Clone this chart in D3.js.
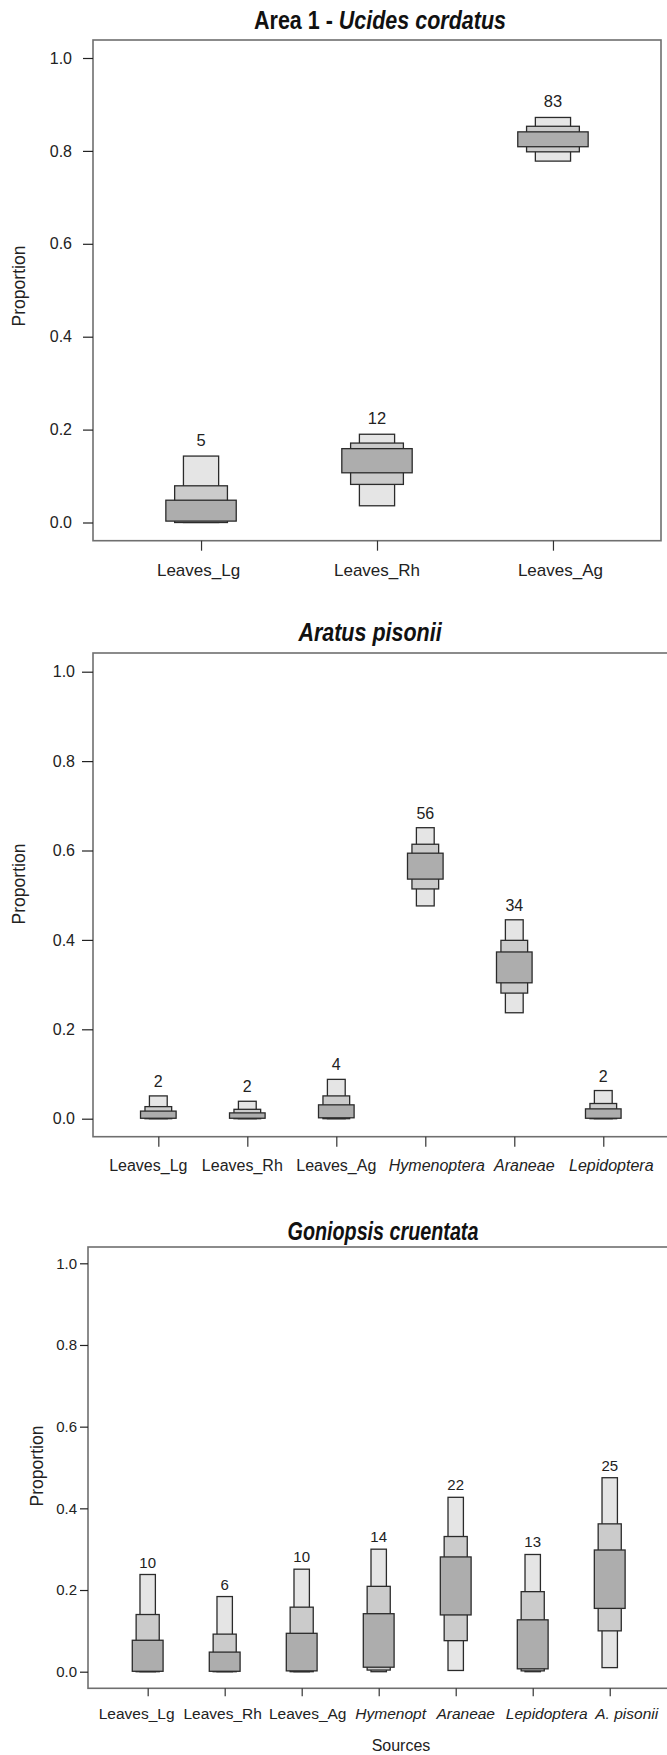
<!DOCTYPE html>
<html>
<head>
<meta charset="utf-8">
<script src="https://cdn.jsdelivr.net/npm/d3@7/dist/d3.min.js"></script>
<style>
  body { margin: 0; background: #fff; }
  svg { display: block; }
</style>
</head>
<body>
<div id="chart"></div>
<script>
// --- data (posterior proportions, 50/75/95% boxes) ---
const yTicks = [0, 0.2, 0.4, 0.6, 0.8, 1.0];

// Area 1 - Ucides cordatus
const cats1 = ['Leaves_Lg', 'Leaves_Rh', 'Leaves_Ag'];
const n1 = [5, 12, 83];
const ci95_1 = [[0.000, 0.143], [0.036, 0.190], [0.778, 0.872]];
const ci75_1 = [[0.000, 0.079], [0.082, 0.171], [0.798, 0.853]];
const ci50_1 = [[0.003, 0.048], [0.107, 0.159], [0.809, 0.841]];

// Aratus pisonii
const cats2 = ['Leaves_Lg', 'Leaves_Rh', 'Leaves_Ag', 'Hymenoptera', 'Araneae', 'Lepidoptera'];
const n2 = [2, 2, 4, 56, 34, 2];
const ci95_2 = [[0.000, 0.051], [0.000, 0.039], [0.000, 0.088], [0.476, 0.651], [0.237, 0.445], [0.000, 0.063]];
const ci75_2 = [[0.000, 0.027], [0.000, 0.021], [0.000, 0.051], [0.514, 0.614], [0.281, 0.399], [0.000, 0.034]];
const ci50_2 = [[0.001, 0.017], [0.001, 0.013], [0.002, 0.031], [0.536, 0.594], [0.304, 0.373], [0.001, 0.022]];

// Goniopsis cruentata
const cats3 = ['Leaves_Lg', 'Leaves_Rh', 'Leaves_Ag', 'Hymenopt', 'Araneae', 'Lepidoptera', 'A. pisonii'];
const n3 = [10, 6, 10, 14, 22, 13, 25];
const ci95_3 = [[0.000, 0.238], [0.000, 0.184], [0.000, 0.251], [0.000, 0.300], [0.003, 0.427], [0.000, 0.287], [0.010, 0.475]];
const ci75_3 = [[0.000, 0.140], [0.000, 0.092], [0.000, 0.158], [0.004, 0.209], [0.076, 0.331], [0.002, 0.196], [0.100, 0.362]];
const ci50_3 = [[0.001, 0.077], [0.001, 0.048], [0.002, 0.094], [0.011, 0.142], [0.139, 0.281], [0.007, 0.127], [0.155, 0.298]];

const italicCats = ['Hymenoptera', 'Araneae', 'Lepidoptera', 'Hymenopt', 'A. pisonii'];

const W = 667, H = 1755;
const sans = '"Liberation Sans", Arial, sans-serif';

const fills = { c95: '#e5e5e5', c75: '#cbcbcb', c50: '#adadad' };

const svg = d3.select('#chart').append('svg')
  .attr('width', W)
  .attr('height', H)
  .attr('viewBox', `0 0 ${W} ${H}`);

// layout of the three panels (labels in the original were nudged by hand)
const panels = [
  {
    title: [['Area 1 - ', 'normal'], ['Ucides cordatus', 'italic']],
    titleX: 380, titleY: 29, titleScale: 0.86,
    cats: cats1, n: n1, c95: ci95_1, c75: ci75_1, c50: ci50_1,
    left: 93, right: 661, top: 40, bottom: 540.7, y0: 522.5, y1: 58, pad: 0.614,
    tickLen: 10, tickPad: 11, xTickLen: 10, tickFont: 16,
    catFont: 17, catY: 576, catShift: [-2.5, 0, 7.5], nFont: 16.5, nGap: 10,
    propX: 19, propY: 286
  },
  {
    title: [['Aratus pisonii', 'italic']],
    titleX: 370, titleY: 641, titleScale: 0.86,
    cats: cats2, n: n2, c95: ci95_2, c75: ci75_2, c50: ci50_2,
    left: 93, right: 668.6, top: 653, bottom: 1136.7, y0: 1118.7, y1: 671.7, pad: 0.734,
    tickLen: 11, tickPad: 7, xTickLen: 10, tickFont: 16,
    catFont: 16, catY: 1171, catShift: [-10, -5, 0, 11.5, 10, 8], nFont: 16, nGap: 9,
    propX: 19, propY: 884
  },
  {
    title: [['Goniopsis cruentata', 'italic']],
    titleX: 383, titleY: 1240, titleScale: 0.79,
    cats: cats3, n: n3, c95: ci95_3, c75: ci75_3, c50: ci50_3,
    left: 88, right: 669.4, top: 1247, bottom: 1688.3, y0: 1671.7, y1: 1263.3, pad: 0.775,
    tickLen: 8, tickPad: 3, xTickLen: 8, tickFont: 15,
    catFont: 15.5, catY: 1719, catShift: [-11, -2, 6, 12, 10, 14, 17], nFont: 15, nGap: 7,
    propX: 37, propY: 1466,
    xLabel: 'Sources', xLabelX: 401, xLabelY: 1751
  }
];

panels.forEach(drawPanel);

function drawPanel(p) {
  const g = svg.append('g');

  const x = d3.scalePoint()
    .domain(p.cats)
    .range([p.left, p.right])
    .padding(p.pad);

  const y = d3.scaleLinear()
    .domain([0, 1])
    .range([p.y0, p.y1]);

  const step = x.step();

  // title (condensed bold, like Arial Narrow)
  const t = g.append('text')
    .attr('transform', `translate(${p.titleX},${p.titleY}) scale(${p.titleScale},1)`)
    .attr('text-anchor', 'middle')
    .attr('font-family', sans)
    .attr('font-weight', 'bold')
    .attr('font-size', 25)
    .attr('fill', '#111');
  p.title.forEach(([s, style]) => {
    t.append('tspan').attr('font-style', style).text(s);
  });

  // frame
  g.append('rect')
    .attr('x', p.left)
    .attr('y', p.top)
    .attr('width', p.right - p.left)
    .attr('height', p.bottom - p.top)
    .attr('fill', 'none')
    .attr('stroke', '#6f6f6f')
    .attr('stroke-width', 1.6);

  // y axis
  const yAxis = g.append('g')
    .attr('transform', `translate(${p.left},0)`)
    .call(d3.axisLeft(y).tickValues(yTicks).tickFormat(d3.format('.1f'))
      .tickSize(p.tickLen).tickPadding(p.tickPad));
  yAxis.select('.domain').remove();
  yAxis.selectAll('line').attr('stroke', '#222').attr('stroke-width', 1.2);
  yAxis.selectAll('text')
    .attr('font-family', sans)
    .attr('font-size', p.tickFont)
    .attr('fill', '#222');

  // x axis
  const xAxis = g.append('g')
    .attr('transform', `translate(0,${p.bottom})`)
    .call(d3.axisBottom(x).tickSize(p.xTickLen).tickFormat(''));
  xAxis.select('.domain').remove();
  xAxis.selectAll('line').attr('stroke', '#333').attr('stroke-width', 1.2);

  g.selectAll('text.cat')
    .data(p.cats)
    .join('text')
    .attr('class', 'cat')
    .attr('x', (d, i) => x(d) + p.catShift[i])
    .attr('y', p.catY)
    .attr('text-anchor', 'middle')
    .attr('font-family', sans)
    .attr('font-size', p.catFont)
    .attr('font-style', d => italicCats.includes(d) ? 'italic' : 'normal')
    .attr('fill', '#222')
    .text(d => d);

  // y label
  g.append('text')
    .attr('transform', `translate(${p.propX},${p.propY}) rotate(-90)`)
    .attr('text-anchor', 'middle')
    .attr('dy', '0.35em')
    .attr('font-family', sans)
    .attr('font-size', 17.5)
    .attr('fill', '#222')
    .text('Proportion');

  if (p.xLabel) {
    g.append('text')
      .attr('x', p.xLabelX)
      .attr('y', p.xLabelY)
      .attr('text-anchor', 'middle')
      .attr('font-family', sans)
      .attr('font-size', 16)
      .attr('fill', '#222')
      .text(p.xLabel);
  }

  // boxes: 95% (narrow, light) behind 75% behind 50% (wide, dark)
  const levels = [
    { key: 'c95', w: 0.2 },
    { key: 'c75', w: 0.3 },
    { key: 'c50', w: 0.4 }
  ];
  levels.forEach(lv => {
    const bw = step * lv.w;
    g.selectAll(`rect.${lv.key}`)
      .data(p.cats.map((c, i) => ({ c, lo: p[lv.key][i][0], hi: p[lv.key][i][1] })))
      .join('rect')
      .attr('class', lv.key)
      .attr('x', d => x(d.c) - bw / 2)
      .attr('y', d => y(d.hi))
      .attr('width', bw)
      .attr('height', d => Math.max(0.5, y(d.lo) - y(d.hi)))
      .attr('fill', fills[lv.key])
      .attr('stroke', '#2b2b2b')
      .attr('stroke-width', 1.3);
  });

  // counts above the boxes
  g.selectAll('text.n')
    .data(p.cats.map((c, i) => ({ c, n: p.n[i], top: p.c95[i][1] })))
    .join('text')
    .attr('class', 'n')
    .attr('x', d => x(d.c))
    .attr('y', d => y(d.top) - p.nGap)
    .attr('text-anchor', 'middle')
    .attr('font-family', sans)
    .attr('font-size', p.nFont)
    .attr('fill', '#222')
    .text(d => d.n);
}
</script>
</body>
</html>
